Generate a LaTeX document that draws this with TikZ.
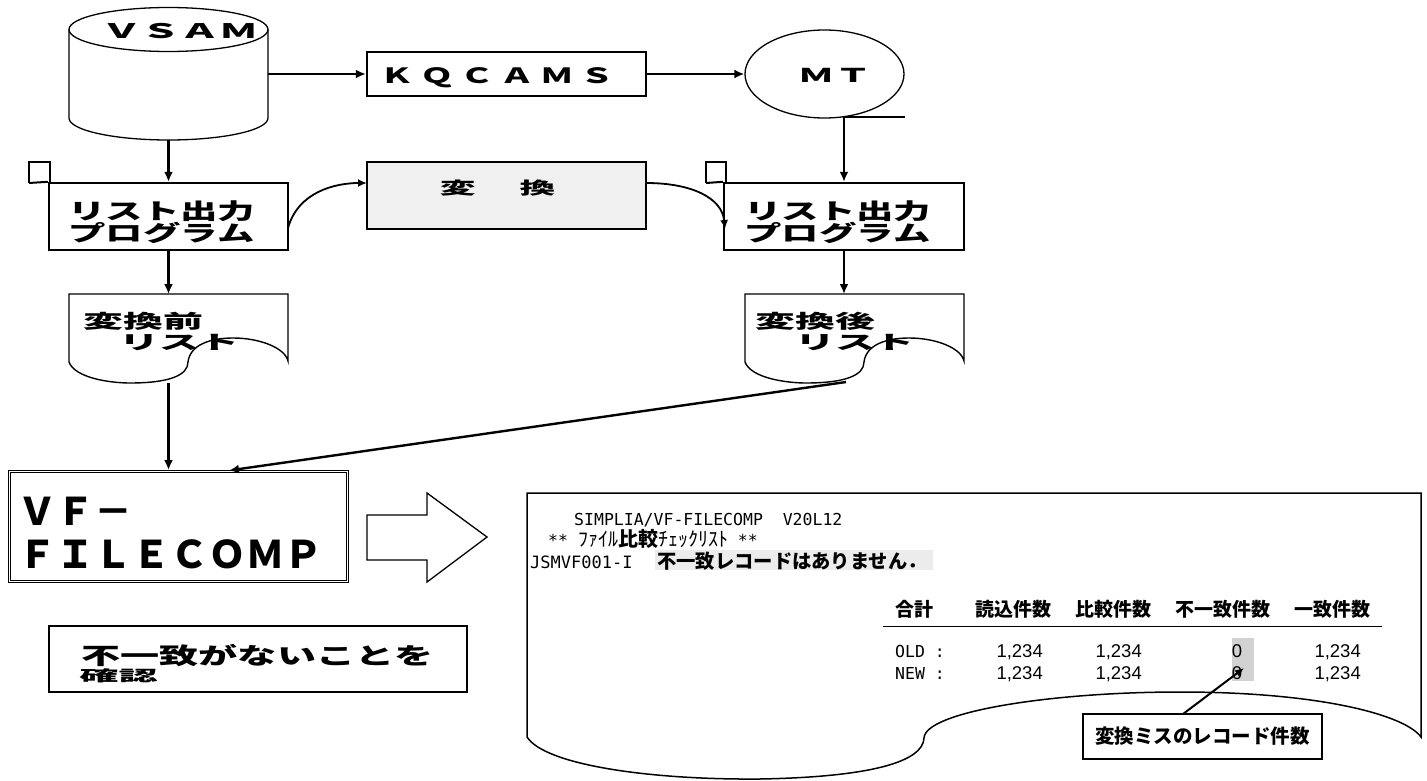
\documentclass[tikz,border=0pt]{standalone}
\usepackage{fontspec}
\usepackage{graphicx}
\usetikzlibrary{arrows.meta,shapes.geometric}
\newfontfamily\jp{Noto Sans CJK JP}
\newfontfamily\mono{DejaVu Sans Mono}
\newfontfamily\arial{Liberation Sans}
\newcommand\lsp[2]{\def\lspsep{\hskip#1\relax}\lsploop#2\relax\unskip}
\def\lsploop#1{\ifx\relax#1\else#1\lspsep\expandafter\lsploop\fi}
\newcommand\fs[1]{\fontsize{#1}{#1}\selectfont}
\begin{document}
\begin{tikzpicture}[x=1pt,y=-1pt,line join=miter,
  thickbox/.style={draw,line width=2.4pt,inner sep=0pt},
  arr/.style={line width=2.4pt,-{Latex[length=10pt,width=9pt]}},
  carr/.style={line width=1.8pt,-{Latex[length=9pt,width=8pt]}},
  thinline/.style={line width=1.3pt},
  txt/.style={inner sep=0pt,anchor=base},
  txtw/.style={inner sep=0pt,anchor=base west},
  txte/.style={inner sep=0pt,anchor=base east},
  bigjp/.style={font=\jp\bfseries\fs{#1}},
  monof/.style={font=\mono\fs{#1}},
  numf/.style={font=\arial\fs{18.5}}]
\useasboundingbox (0,0) rectangle (1427,781);
\fill[white] (0,0) rectangle (1427,781);

% ---------- VSAM cylinder
\draw[thinline] (69,29.5) -- (69,118) arc[start angle=180,end angle=0,x radius=99.5,y radius=22]
  -- (268,29.5);
\draw[thinline] (168.5,29.5) ellipse[x radius=99.5,y radius=22];
\coordinate (vsamR) at (268,74);
\coordinate (vsamB) at (168.5,140);
\node[txt,bigjp=20] (vsamT) at (180,38.5) {\scalebox{1.95}[1]{ＶＳＡＭ}};

% ---------- KQCAMS
\node[thickbox,minimum width=279pt,minimum height=44pt] (kq) at (506.5,74) {};
\node[txt,bigjp=21] (kqT) at (497.5,83.5) {\scalebox{1.6}[1]{\lsp{4pt}{ＫＱＣＡＭＳ}}};

% ---------- MT
\node[ellipse,draw,thinline,minimum width=159pt,minimum height=88pt,inner sep=0pt] (mt) at (824.5,74) {};
\node[txt,bigjp=19] (mtT) at (835,82.5) {\scalebox{1.9}[1]{ＭＴ}};
\coordinate (mtB) at (844,117);
\draw[line width=1.2pt] (mtB) -- ++(61,0);

\draw[arr] (vsamR) -- (kq.west);
\draw[arr] (kq.east) -- (mt.west);

% ---------- left list program
\node[thickbox,minimum width=239pt,minimum height=67pt] (lp) at (168.5,216.5) {};
\draw[line width=1.5pt] (29,183) -- (29,162) -- (50,162) -- (50,183);
\draw[line width=2pt] (29,183) -- (lp.north west);
\node[txt,bigjp=22] (lp1) at (161.5,219) {\scalebox{1.7}[1]{リスト出力}};
\node[txt,bigjp=22] (lp2) at (161.5,241) {\scalebox{1.7}[1]{プログラム}};

% ---------- right list program
\node[thickbox,minimum width=240pt,minimum height=67pt] (rp) at (844,216.5) {};
\draw[line width=1.5pt] (706,183) -- (706,162) -- (726,162) -- (726,183);
\draw[line width=2pt] (706,183) -- (rp.north west);
\node[txt,bigjp=22] (rp1) at (837.5,219) {\scalebox{1.7}[1]{リスト出力}};
\node[txt,bigjp=22] (rp2) at (837.5,241) {\scalebox{1.7}[1]{プログラム}};

% ---------- conversion box
\node[thickbox,fill=gray!12,minimum width=279pt,minimum height=67pt] (hen) at (506.5,195.5) {};
\node[txt,bigjp=17] (henT) at (497.5,194) {\scalebox{2.1}[1]{変\hskip21pt 換}};

\draw[arr] (vsamB) -- (lp.north);
\draw[arr] (mtB) -- (rp.north);
\coordinate (lpE) at (288,228);
\coordinate (henW) at (367,183);
\coordinate (henE) at (646,183);
\coordinate (rpW) at (725,229);
\draw[carr] (lpE) .. controls (298,192) and (335,183) .. (henW);
\draw[carr] (henE) .. controls (692,183) and (722,198) .. (rpW);

% ---------- documents
\draw[line width=1.4pt] (69,362) -- (69,294) -- (288,294) -- (288,361)
  .. controls (285,348) and (260,338) .. (233,338)
  .. controls (210,338) and (190,345) .. (188,362)
  .. controls (188,375) and (170,383) .. (130,383)
  .. controls (110,383) and (75,378) .. (69,362);
\begin{scope}[xshift=676pt]
\draw[line width=1.4pt] (69,362) -- (69,294) -- (288,294) -- (288,361)
  .. controls (285,348) and (260,338) .. (233,338)
  .. controls (210,338) and (190,345) .. (188,362)
  .. controls (188,375) and (170,383) .. (130,383)
  .. controls (110,383) and (75,378) .. (69,362);
\end{scope}
\coordinate (ldT) at (168.5,294);
\coordinate (ldB) at (168.5,383);
\coordinate (rdT) at (844,294);
\coordinate (rdB) at (846,382);
\node[txt,bigjp=19] (ld1) at (143.5,328) {\scalebox{2.1}[1]{変換前}};
\node[txt,bigjp=19] (ld2) at (179.5,349) {\scalebox{2.1}[1]{リスト}};
\node[txt,bigjp=19] (rd1) at (815.5,328) {\scalebox{2.1}[1]{変換後}};
\node[txt,bigjp=19] (rd2) at (855,349) {\scalebox{2.1}[1]{リスト}};

\draw[arr] (lp.south) -- (ldT);
\draw[arr] (rp.south) -- (rdT);

% ---------- VF-FILECOMP
\node[draw,double,double distance=1.6pt,line width=1pt,inner sep=0pt,minimum width=338pt,minimum height=110pt] (vf) at (178.5,526.5) {};
\node[txtw,bigjp=38] (vf1) at (18,525) {ＶＦ－};
\node[txtw,bigjp=38] (vf2) at (18,568) {ＦＩＬＥＣＯＭＰ};
\coordinate (vfinL) at (168.5,470);
\coordinate (vfinR) at (229,470.5);
\draw[arr] (ldB) -- (vfinL);
\draw[arr] (rdB) -- (vfinR);

% ---------- hollow arrow
\draw[thinline] (367,515) -- (427,515) -- (427,493) -- (487,537) -- (427,582) -- (427,560) -- (367,560) -- cycle;

% ---------- check box
\node[thickbox,minimum width=418pt,minimum height=66pt] (chk) at (258,659) {};
\node[txt,bigjp=23] (chk1) at (257.5,664) {\scalebox{1.7}[1]{不一致がないことを}};
\node[txt,bigjp=23] (chk2) at (118.5,681) {\scalebox{1.7}[0.65]{確認}};

% ---------- output list document
\draw[line width=1.5pt] (527,737) -- (527,493) -- (1421,493) -- (1421,737)
  .. controls (1405,715) and (1320,692) .. (1180,692)
  .. controls (1050,692) and (925,712) .. (924,738)
  .. controls (923,762) and (870,777) .. (760,779)
  .. controls (650,780) and (545,765) .. (527,737);

\node[txtw,monof=16.5] (l1) at (574,525) {SIMPLIA/VF-FILECOMP\ \ V20L12};
\node[txtw,monof=16.5] (l2) at (548,546) {**\ {\jp\fs{20}ﾌｧｲﾙ\textbf{比較}ﾁｪｯｸﾘｽﾄ}\ **};
\node[txtw,monof=17] (l3) at (530,568) {JSMVF001-I};
\fill[gray!15] (655,550) rectangle (933,570);
\node[txtw,bigjp=19.3] (l4) at (657,568) {不一致レコードはありません．};

\node[txt,bigjp=19] (h0) at (914,616) {合計};
\node[txt,bigjp=19] (h1) at (1013.5,616) {読込件数};
\node[txt,bigjp=19] (h2) at (1113.5,616) {比較件数};
\node[txt,bigjp=19] (h3) at (1222.5,616) {不一致件数};
\node[txt,bigjp=19] (h4) at (1332,616) {一致件数};
\draw[line width=1pt] (883,626) -- (1382,626);

\fill[gray!35] (1232,638) rectangle (1254,681);
\node[txtw,monof=16.5] (r1) at (895,657) {OLD\ :};
\node[txtw,monof=16.5] (r2) at (895,679) {NEW\ :};
\node[txte,numf] (a1) at (1043,657) {1,234};
\node[txte,numf] (b1) at (1142,657) {1,234};
\node[txt,numf] (c1) at (1237,657) {0};
\node[txte,numf] (d1) at (1361,657) {1,234};
\node[txte,numf] (a2) at (1043,679) {1,234};
\node[txte,numf] (b2) at (1142,679) {1,234};
\node[txt,numf] (c2) at (1237,679) {0};
\node[txte,numf] (d2) at (1361,679) {1,234};

\node[draw,line width=2pt,fill=white,inner sep=0pt,minimum width=239pt,minimum height=45pt,bigjp=19.5] (call) at (1202.5,736.5) {変換ミスのレコード件数};
\coordinate (callT) at (1183,714);
\coordinate (zero) at (1244,668);
\draw[line width=2pt,-{Latex[length=9pt,width=8pt]}] (callT) -- (zero);
\end{tikzpicture}
\end{document}
